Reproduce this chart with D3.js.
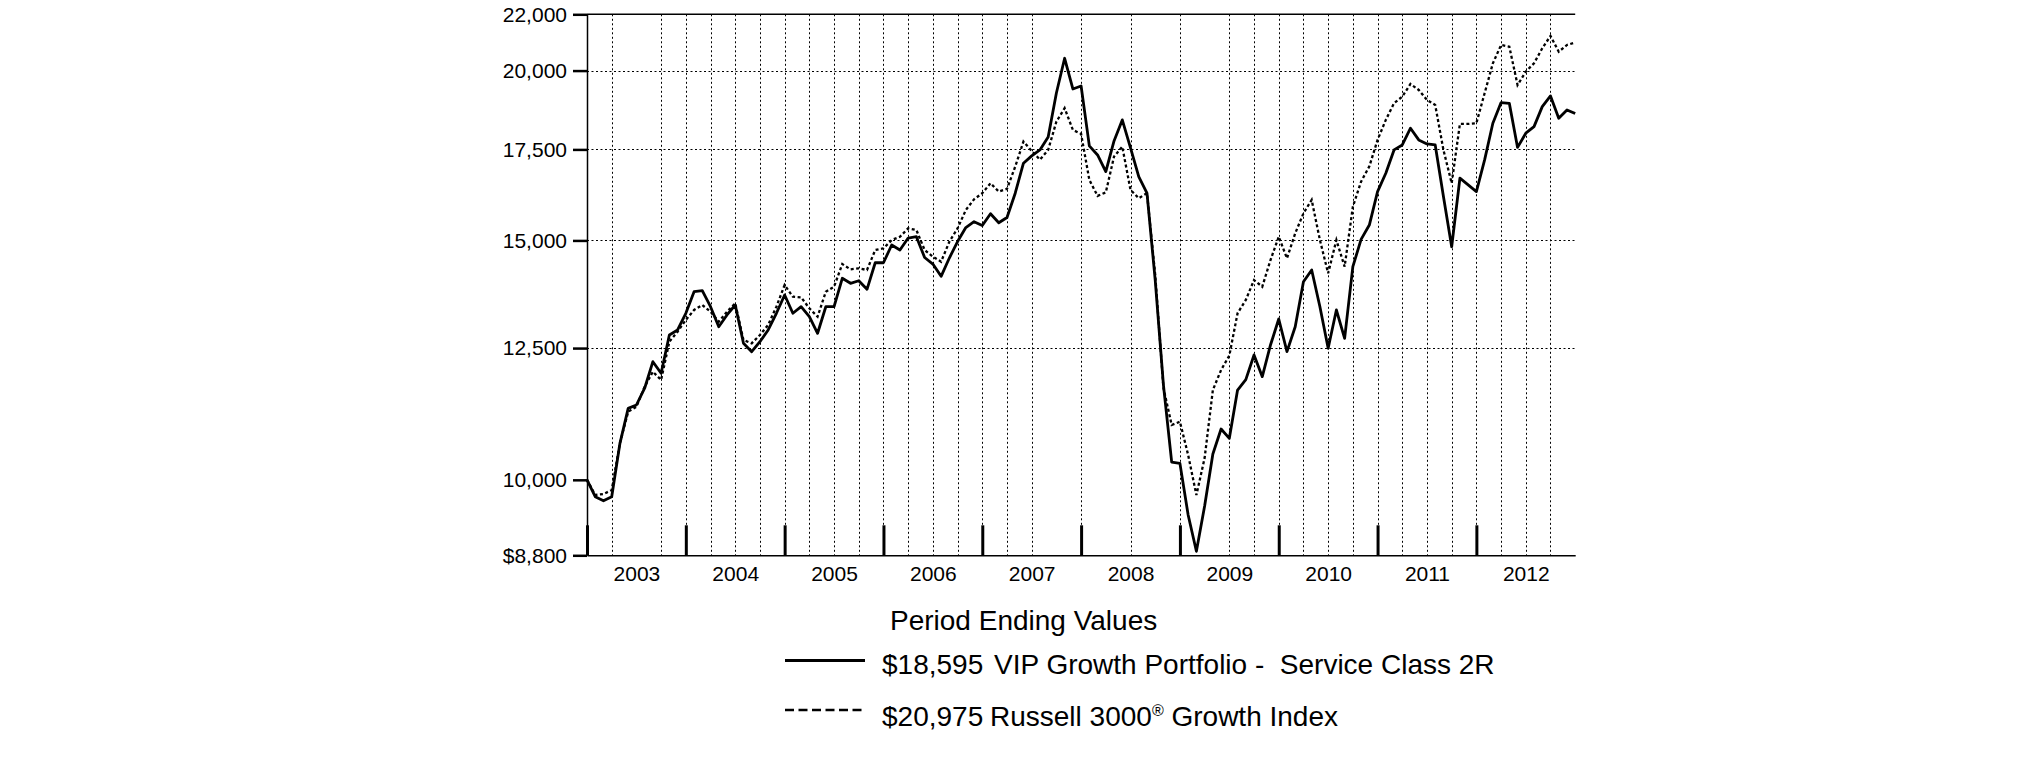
<!DOCTYPE html>
<html><head><meta charset="utf-8">
<script src="https://cdn.jsdelivr.net/npm/d3@7"></script>
<style>
html,body{margin:0;padding:0;background:#fff;}
svg{display:block;font-family:"Liberation Sans",Arial,Helvetica,sans-serif;}
</style></head><body>
<svg id="chart" width="2025" height="761"></svg>
<script>
// month index 0 = Dec 2002 ... 120 = Dec 2012
const months = d3.range(0, 121);
const vip = [10000,9718,9652,9718,10638,11287,11351,11678,12215,11978,12780,12889,13259,13752,13775,13407,12961,13221,13446,12602,12424,12636,12889,13259,13675,13259,13407,13183,12817,13407,13407,14068,13949,14010,13808,14444,14444,14884,14758,15061,15094,14572,14412,14115,14559,14972,15331,15483,15383,15694,15456,15593,16249,17096,17309,17485,17874,19255,20421,19386,19485,17604,17337,16855,17754,18397,17545,16712,16249,14027,11741,10306,10283,9421,8860,9566,10447,10899,10728,11643,11850,12355,11909,12566,13131,12424,12961,13986,14267,13407,12496,13333,12709,14347,15028,15396,16293,16809,17485,17633,18140,17784,17664,17633,16156,14841,16667,16479,16293,17192,18294,18944,18921,17560,17987,18189,18816,19159,18450,18711,18595];
const russell = [10000,9746,9762,9829,10644,11222,11318,11709,12010,11843,12636,12852,13109,13333,13446,13293,13072,13293,13485,12672,12602,12780,12999,13407,13909,13636,13622,13371,13183,13752,13869,14412,14283,14308,14267,14758,14801,15010,15094,15310,15266,14758,14592,14469,14967,15310,15792,16082,16249,16526,16293,16368,16998,17733,17456,17201,17485,18344,18765,18088,17966,16620,16175,16271,17288,17583,16340,16112,16249,14147,11684,10973,11034,10429,9746,10376,11643,12045,12344,13259,13561,14027,13869,14510,15094,14552,15181,15705,16065,15010,14187,15010,14347,15881,16571,17004,17784,18397,18925,19136,19551,19354,19029,18868,17485,16526,18272,18272,18294,19246,20248,20886,20826,19518,19963,20248,20770,21208,20650,20886,20975];
const yTickValues = [8800, 10000, 12500, 15000, 17500, 20000, 22000];
const yGridValues = [12500, 15000, 17500, 20000];
const yearLabels = ["2003","2004","2005","2006","2007","2008","2009","2010","2011","2012"];
const yearTickMonths = [0,12,24,36,48,60,72,84,96,108];
const yearLabelMonths = [6,18,30,42,54,66,78,90,102,114];
const gridMonths = [3,9,12,15,18,21,24,27,30,33,36,39,42,45,48,51,54,60,66,72,78,81,84,87,90,93,96,99,102,105,108,111,114,117];
const legendTitle = "Period Ending Values";
const legendValues = ["$18,595", "$20,975"];
const legendNames = ["VIP Growth Portfolio -  Service Class 2R", "Russell 3000"];

const svg = d3.select("#chart");
const x = d3.scaleLinear().domain([0, 120]).range([587, 1575.2]);
const y = d3.scaleLog().domain([8800, 22000]).range([555.3, 14.3]);

// gridlines
const grid = svg.append("g");
grid.selectAll("line.v").data(gridMonths).join("line").attr("class","v")
  .attr("x1", d => Math.round(x(d)) + 0.5).attr("x2", d => Math.round(x(d)) + 0.5)
  .attr("y1", y(22000)).attr("y2", y(8800))
  .attr("stroke", "#000").attr("stroke-width", 1).attr("stroke-dasharray", "2,2.5");
grid.selectAll("line.h").data(yGridValues).join("line").attr("class","h")
  .attr("x1", x(0)).attr("x2", x(120))
  .attr("y1", d => Math.round(y(d)) + 0.5).attr("y2", d => Math.round(y(d)) + 0.5)
  .attr("stroke", "#000").attr("stroke-width", 1).attr("stroke-dasharray", "2,2.5");

// top border
svg.append("line").attr("x1", x(0)).attr("x2", x(120)).attr("y1", y(22000)).attr("y2", y(22000))
  .attr("stroke", "#000").attr("stroke-width", 1.5);

// series lines
const line = d3.line().x((d, i) => x(months[i])).y(d => y(d));
svg.append("path").datum(russell).attr("d", line).attr("fill", "none")
  .attr("stroke", "#000").attr("stroke-width", 2.3).attr("stroke-dasharray", "3,2.5");
svg.append("path").datum(vip).attr("d", line).attr("fill", "none")
  .attr("stroke", "#000").attr("stroke-width", 2.8).attr("stroke-linejoin", "round");

// y axis
const yAxis = d3.axisLeft(y).tickValues(yTickValues)
  .tickFormat(d => d === 8800 ? "$8,800" : d3.format(",")(d))
  .tickSize(14).tickSizeOuter(0).tickPadding(6);
const gy = svg.append("g").attr("transform", `translate(${x(0)},0)`).call(yAxis);
gy.select(".domain").attr("stroke-width", 1.5);
gy.selectAll(".tick line").attr("stroke-width", 2.5);
gy.selectAll(".tick text").attr("font-size", 21).attr("font-family", "Liberation Sans, Arial, sans-serif").attr("fill", "#000");

// x axis: year boundary ticks (inside)
const xAxis = d3.axisBottom(x).tickValues(yearTickMonths).tickFormat("").tickSize(-30).tickSizeOuter(0);
const gx = svg.append("g").attr("transform", `translate(0,${y(8800)})`).call(xAxis);
gx.select(".domain").attr("stroke-width", 1.5);
gx.selectAll(".tick line").attr("stroke-width", 3);

// x axis: year labels
const xLab = d3.axisBottom(x).tickValues(yearLabelMonths)
  .tickFormat((d, i) => yearLabels[i]).tickSize(0).tickPadding(11);
const gl = svg.append("g").attr("transform", `translate(0,${y(8800)})`).call(xLab);
gl.select(".domain").remove();
gl.selectAll(".tick text").attr("font-size", 21).attr("font-family", "Liberation Sans, Arial, sans-serif").attr("fill", "#000");

// legend
const lg = svg.append("g").attr("font-size", 28).attr("fill", "#000");
lg.append("text").attr("x", 890).attr("y", 630).text(legendTitle);
lg.append("line").attr("x1", 785).attr("x2", 865).attr("y1", 660.5).attr("y2", 660.5)
  .attr("stroke", "#000").attr("stroke-width", 3);
lg.append("line").attr("x1", 785).attr("x2", 865).attr("y1", 710).attr("y2", 710)
  .attr("stroke", "#000").attr("stroke-width", 2.5).attr("stroke-dasharray", "9,4.5");
lg.append("text").attr("x", 882).attr("y", 674).text(legendValues[0]);
lg.append("text").attr("x", 882).attr("y", 726).text(legendValues[1]);
lg.append("text").attr("x", 994).attr("y", 674).style("white-space", "pre").text(legendNames[0]);
const t2 = lg.append("text").attr("x", 990).attr("y", 726);
t2.append("tspan").text(legendNames[1]);
t2.append("tspan").attr("font-size", 16).attr("dy", -10).text("®");
t2.append("tspan").attr("dy", 10).text(" Growth Index");
</script>
</body></html>
